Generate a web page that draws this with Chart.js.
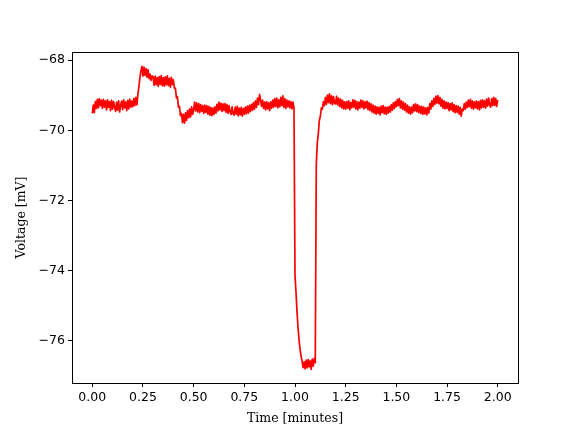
<!DOCTYPE html>
<html>
<head>
<meta charset="utf-8">
<script src="https://cdn.jsdelivr.net/npm/chart.js@4"></script>
<style>
  html, body { margin: 0; padding: 0; background: #fff; }
  canvas { display: block; }
</style>
</head>
<body>
<canvas id="trace" width="576" height="432"></canvas>
<script>
// recording, one sample every 0.005 min
const sampleStep = 0.005;
const voltage = [
  -69.52, -69.28, -69.50, -69.18, -69.38, -69.12, -69.36, -69.10, -69.30, -69.14,
  -69.38, -69.12, -69.34, -69.16, -69.42, -69.13, -69.35, -69.18, -69.44, -69.15,
  -69.40, -69.18, -69.34, -69.46, -69.20, -69.43, -69.16, -69.48, -69.28, -69.17,
  -69.41, -69.13, -69.36, -69.19, -69.44, -69.15, -69.39, -69.11, -69.34, -69.17,
  -69.33, -69.09, -69.30, -69.06, -69.28, -68.98, -68.76, -68.50, -68.30, -68.18,
  -68.46, -68.20, -68.44, -68.24, -68.49, -68.27, -68.53, -68.40, -68.58, -68.45,
  -68.48, -68.72, -68.46, -68.70, -68.50, -68.75, -68.47, -68.69, -68.44, -68.73,
  -68.50, -68.74, -68.48, -68.71, -68.45, -68.73, -68.52, -68.77, -68.49, -68.70,
  -68.56, -68.80, -68.80, -69.08, -69.04, -69.34, -69.32, -69.58, -69.52, -69.78,
  -69.55, -69.80, -69.50, -69.72, -69.44, -69.65, -69.40, -69.62, -69.33, -69.55,
  -69.42, -69.20, -69.45, -69.22, -69.48, -69.24, -69.50, -69.27, -69.46, -69.30,
  -69.52, -69.28, -69.49, -69.30, -69.54, -69.32, -69.57, -69.35, -69.58, -69.37,
  -69.55, -69.33, -69.51, -69.26, -69.45, -69.20, -69.42, -69.23, -69.46, -69.25,
  -69.44, -69.24, -69.49, -69.27, -69.52, -69.30, -69.48, -69.55, -69.33, -69.53,
  -69.57, -69.34, -69.54, -69.32, -69.59, -69.37, -69.56, -69.35, -69.60, -69.38,
  -69.55, -69.34, -69.53, -69.31, -69.51, -69.29, -69.47, -69.26, -69.43, -69.21,
  -69.40, -69.16, -69.35, -69.08, -69.27, -68.98, -69.12, -69.32, -69.14, -69.38,
  -69.20, -69.42, -69.18, -69.39, -69.22, -69.44, -69.19, -69.37, -69.14, -69.34,
  -69.10, -69.32, -69.08, -69.36, -69.13, -69.33, -69.06, -69.30, -69.02, -69.35,
  -69.10, -69.38, -69.14, -69.33, -69.16, -69.36, -69.18, -69.39, -69.20, -69.36,
  -74.13, -74.62, -75.18, -75.62, -75.98, -76.24, -76.44, -76.58, -76.76, -76.60,
  -76.80, -76.55, -76.77, -76.53, -76.74, -76.57, -76.81, -76.52, -76.72, -76.50,
  -76.62, -70.98, -70.36, -70.10, -69.72, -69.60, -69.36, -69.40, -69.18, -69.30,
  -69.06, -69.26, -69.00, -69.21, -68.96, -69.24, -69.02, -69.27, -69.04, -69.23,
  -69.25, -69.03, -69.28, -69.08, -69.32, -69.11, -69.36, -69.15, -69.39, -69.19,
  -69.40, -69.18, -69.37, -69.16, -69.42, -69.21, -69.36, -69.13, -69.34, -69.15,
  -69.39, -69.18, -69.42, -69.20, -69.37, -69.14, -69.35, -69.16, -69.39, -69.19,
  -69.36, -69.17, -69.41, -69.21, -69.44, -69.25, -69.48, -69.28, -69.51, -69.31,
  -69.54, -69.33, -69.52, -69.35, -69.56, -69.31, -69.50, -69.30, -69.53, -69.34,
  -69.55, -69.34, -69.51, -69.32, -69.48, -69.27, -69.43, -69.22, -69.38, -69.18,
  -69.33, -69.12, -69.30, -69.10, -69.36, -69.16, -69.40, -69.20, -69.43, -69.24,
  -69.48, -69.28, -69.51, -69.33, -69.54, -69.34, -69.50, -69.27, -69.45, -69.25,
  -69.47, -69.27, -69.50, -69.31, -69.52, -69.32, -69.55, -69.34, -69.53, -69.36,
  -69.56, -69.35, -69.51, -69.24, -69.40, -69.16, -69.32, -69.09, -69.26, -69.03,
  -69.23, -69.01, -69.25, -69.06, -69.31, -69.12, -69.37, -69.16, -69.39, -69.20,
  -69.38, -69.21, -69.44, -69.24, -69.42, -69.22, -69.47, -69.27, -69.50, -69.30,
  -69.49, -69.31, -69.54, -69.35, -69.60, -69.40, -69.44, -69.24, -69.40, -69.20,
  -69.35, -69.14, -69.33, -69.12, -69.37, -69.16, -69.40, -69.19, -69.36, -69.17,
  -69.39, -69.18, -69.42, -69.15, -69.36, -69.13, -69.34, -69.16, -69.37, -69.11,
  -69.31, -69.08, -69.28, -69.34, -69.10, -69.30, -69.06, -69.29, -69.09, -69.32,
  -69.14
];
const xTicks = [0, 0.25, 0.5, 0.75, 1.0, 1.25, 1.5, 1.75, 2.0];
const yTicks = [-76, -74, -72, -70, -68];

const points = voltage.map((v, i) => ({ x: i * sampleStep, y: v }));

const tickFont = { family: "'DejaVu Sans', sans-serif", size: 12.5 };
const titleFont = { family: "'DejaVu Serif', serif", size: 12.5 };

// black frame round the plot area, like matplotlib spines
const frame = {
  id: 'frame',
  afterDraw(chart) {
    const a = chart.chartArea;
    const ctx = chart.ctx;
    ctx.save();
    ctx.strokeStyle = '#000';
    ctx.lineWidth = 1;
    ctx.strokeRect(Math.round(a.left) + 0.5, Math.round(a.top) + 0.5,
                   Math.round(a.right - a.left), Math.round(a.bottom - a.top));
    ctx.restore();
  }
};

new Chart(document.getElementById('trace'), {
  type: 'line',
  data: {
    datasets: [{
      data: points,
      borderColor: '#ff0000',
      borderWidth: 1.7,
      borderJoinStyle: 'round',
      pointRadius: 0,
      tension: 0,
      fill: false
    }]
  },
  options: {
    responsive: false,
    animation: false,
    events: [],
    layout: { padding: { top: 52, right: 58, left: 0, bottom: 0 } },
    plugins: { legend: { display: false }, tooltip: { enabled: false } },
    scales: {
      x: {
        type: 'linear',
        min: -0.1,
        max: 2.1,
        afterBuildTicks: s => { s.ticks = xTicks.map(v => ({ value: v })); },
        afterFit: s => { s.height = 49; },
        ticks: {
          color: '#000',
          font: tickFont,
          padding: 3,
          maxRotation: 0,
          callback: v => v.toFixed(2)
        },
        grid: { drawOnChartArea: false, drawTicks: true, tickLength: 4, tickColor: '#000' },
        border: { display: true, color: '#000' },
        title: { display: true, text: 'Time [minutes]', color: '#000', font: titleFont, padding: { top: 0, bottom: 6 } }
      },
      y: {
        type: 'linear',
        min: -77.2,
        max: -67.77,
        afterBuildTicks: s => { s.ticks = yTicks.map(v => ({ value: v })); },
        afterFit: s => { s.width = 72; },
        ticks: {
          color: '#000',
          font: tickFont,
          padding: 3,
          callback: v => String(v).replace('-', '\u2212')
        },
        grid: { drawOnChartArea: false, drawTicks: true, tickLength: 4, tickColor: '#000' },
        border: { display: true, color: '#000' },
        title: { display: true, text: 'Voltage [mV]', color: '#000', font: titleFont, padding: { top: 14, bottom: 0 } }
      }
    }
  },
  plugins: [frame]
});
</script>
</body>
</html>
